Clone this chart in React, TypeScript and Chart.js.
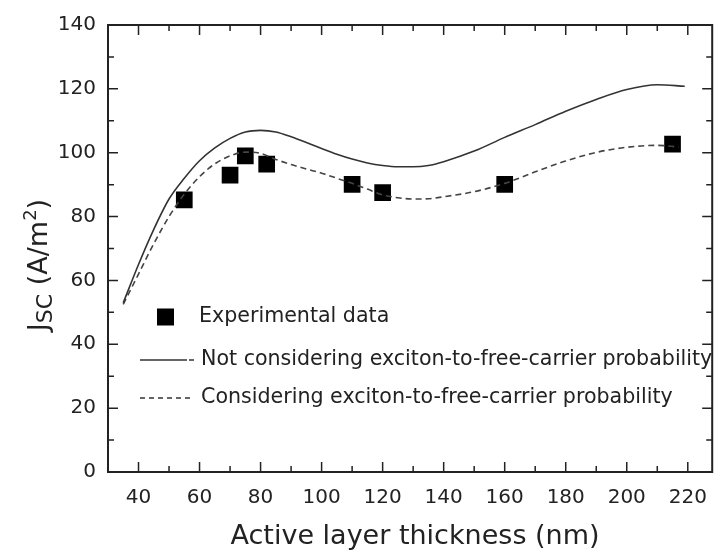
import React, { useEffect, useRef } from "react";
import { Chart, registerables } from "chart.js";

Chart.register(...registerables);

const X_TICKS = [40, 60, 80, 100, 120, 140, 160, 180, 200, 220];
const Y_TICKS = [0, 20, 40, 60, 80, 100, 120, 140];

const expX = [55, 70, 75, 82, 110, 120, 160, 215];
const expY = [85.2, 93, 99, 96.4, 90.1, 87.5, 90.1, 102.7];

const solidX = [35, 40, 45, 50, 55, 60, 65, 70, 75, 80, 85, 90, 95, 100, 105, 110, 115, 120, 125, 130, 135, 140, 150, 160, 170, 180, 190, 200, 210, 219];
const solidY = [53, 65, 76, 85.5, 92, 97.5, 101.5, 104.5, 106.5, 107, 106.5, 105, 103.2, 101.3, 99.5, 98, 96.8, 96, 95.6, 95.6, 96, 97.2, 100.5, 104.8, 108.8, 113, 116.7, 119.8, 121.3, 120.8];

const dashX = [35, 40, 45, 50, 55, 60, 65, 70, 75, 80, 85, 90, 95, 100, 105, 110, 115, 120, 125, 130, 135, 140, 150, 160, 170, 180, 190, 200, 210, 217];
const dashY = [52.5, 62, 71.5, 80, 87, 92.5, 96.5, 99, 100.2, 99.8, 97.9, 96.3, 94.9, 93.6, 92, 90.4, 88.6, 86.8, 85.9, 85.5, 85.6, 86.2, 87.8, 90.4, 94, 97.4, 100.1, 101.7, 102.3, 101.8];

const LEGEND_LABELS = [
  "Experimental data",
  "Not considering exciton-to-free-carrier probability",
  "Considering exciton-to-free-carrier probability",
];
const X_TITLE = "Active layer thickness (nm)";

const FONT = "'DejaVu Sans', 'Liberation Sans', Arial, sans-serif";
const INK = "#222";

const zip = (xs: number[], ys: number[]) => xs.map((x, i) => ({ x, y: ys[i] }));

const decorPlugin = {
  id: "decor",
  afterDatasetsDraw(chart: any) {
    const { ctx, chartArea: a, scales } = chart;
    const xs = scales.x;
    const ys = scales.y;
    ctx.save();
    // frame
    ctx.strokeStyle = INK;
    ctx.lineWidth = 2;
    ctx.strokeRect(a.left, a.top, a.right - a.left, a.bottom - a.top);
    // ticks (inward)
    ctx.lineWidth = 1.5;
    ctx.beginPath();
    for (let v = 40; v <= 220; v += 10) {
      const px = xs.getPixelForValue(v);
      const len = v % 20 === 0 ? 10 : 6;
      ctx.moveTo(px, a.bottom);
      ctx.lineTo(px, a.bottom - len);
      ctx.moveTo(px, a.top);
      ctx.lineTo(px, a.top + len);
    }
    for (let v = 10; v < 140; v += 10) {
      const py = ys.getPixelForValue(v);
      const len = v % 20 === 0 ? 10 : 6;
      ctx.moveTo(a.left, py);
      ctx.lineTo(a.left + len, py);
      ctx.moveTo(a.right, py);
      ctx.lineTo(a.right - len, py);
    }
    ctx.stroke();

    // legend
    const lx = a.left;
    const ly = a.top;
    ctx.fillStyle = "#000";
    ctx.fillRect(lx + 49, ly + 283.5, 17, 17);
    ctx.fillStyle = INK;
    ctx.font = `20.6px ${FONT}`;
    ctx.textBaseline = "middle";
    ctx.textAlign = "left";
    ctx.fillText(LEGEND_LABELS[0], lx + 91, ly + 292);
    ctx.strokeStyle = "#333";
    ctx.lineWidth = 1.5;
    ctx.beginPath();
    ctx.moveTo(lx + 32, ly + 335);
    ctx.lineTo(lx + 79, ly + 335);
    ctx.moveTo(lx + 81, ly + 335);
    ctx.lineTo(lx + 86, ly + 335);
    ctx.stroke();
    ctx.fillText(LEGEND_LABELS[1], lx + 93, ly + 335);
    ctx.setLineDash([5, 4]);
    ctx.beginPath();
    ctx.moveTo(lx + 32, ly + 373);
    ctx.lineTo(lx + 86, ly + 373);
    ctx.stroke();
    ctx.setLineDash([]);
    ctx.fillText(LEGEND_LABELS[2], lx + 93, ly + 373);

    // x title
    ctx.textAlign = "center";
    ctx.textBaseline = "alphabetic";
    ctx.font = `27px ${FONT}`;
    ctx.fillText(X_TITLE, 415, 544);

    // y title with sub/superscript
    const parts = [
      { t: "J", f: 27, dy: 0 },
      { t: "SC", f: 22, dy: 5 },
      { t: " (A/m", f: 27, dy: 0 },
      { t: "2", f: 18, dy: -11 },
      { t: ")", f: 27, dy: 0 },
    ];
    let total = 0;
    for (const p of parts) {
      ctx.font = `${p.f}px ${FONT}`;
      total += ctx.measureText(p.t).width;
    }
    ctx.translate(47, 265);
    ctx.rotate(-Math.PI / 2);
    ctx.textAlign = "left";
    let cx = -total / 2;
    for (const p of parts) {
      ctx.font = `${p.f}px ${FONT}`;
      ctx.fillText(p.t, cx, p.dy);
      cx += ctx.measureText(p.t).width;
    }
    ctx.restore();
  },
};

export default function App() {
  const ref = useRef<HTMLCanvasElement | null>(null);
  useEffect(() => {
    if (!ref.current) return;
    const chart = new Chart(ref.current, {
      type: "scatter",
      data: {
        datasets: [
          {
            label: LEGEND_LABELS[1],
            data: zip(solidX, solidY),
            showLine: true,
            borderColor: "#333",
            borderWidth: 1.6,
            pointRadius: 0,
            cubicInterpolationMode: "monotone",
          },
          {
            label: LEGEND_LABELS[2],
            data: zip(dashX, dashY),
            showLine: true,
            borderColor: "#444",
            borderWidth: 1.6,
            borderDash: [6, 4],
            pointRadius: 0,
            cubicInterpolationMode: "monotone",
          },
          {
            label: LEGEND_LABELS[0],
            data: zip(expX, expY),
            showLine: false,
            pointStyle: "rect",
            pointRadius: 11.8,
            backgroundColor: "#000",
            borderColor: "#000",
            borderWidth: 0,
          },
        ],
      } as any,
      options: {
        animation: false,
        responsive: false,
        devicePixelRatio: 1,
        layout: { padding: { left: 0, right: 4, top: 25, bottom: 0 } },
        plugins: { legend: { display: false }, tooltip: { enabled: false } },
        scales: {
          x: {
            type: "linear",
            min: 30,
            max: 228,
            grid: { display: false, drawTicks: false },
            border: { display: false },
            afterBuildTicks: (s: any) => {
              s.ticks = X_TICKS.map((v) => ({ value: v }));
            },
            afterFit: (s: any) => {
              s.height = 81;
            },
            ticks: { font: { size: 20, family: FONT }, color: INK, padding: 14, maxRotation: 0, autoSkip: false },
          },
          y: {
            type: "linear",
            min: 0,
            max: 140,
            grid: { display: false, drawTicks: false },
            border: { display: false },
            afterBuildTicks: (s: any) => {
              s.ticks = Y_TICKS.map((v) => ({ value: v }));
            },
            afterFit: (s: any) => {
              s.width = 108;
            },
            ticks: { font: { size: 20, family: FONT }, color: INK, padding: 12 },
          },
        },
      } as any,
      plugins: [decorPlugin],
    });
    return () => chart.destroy();
  }, []);
  return (
    <div style={{ position: "absolute", left: 0, top: 0, width: 724, height: 553, background: "#fff" }}>
      <canvas ref={ref} width={724} height={553} style={{ width: 724, height: 553 }} />
    </div>
  );
}
